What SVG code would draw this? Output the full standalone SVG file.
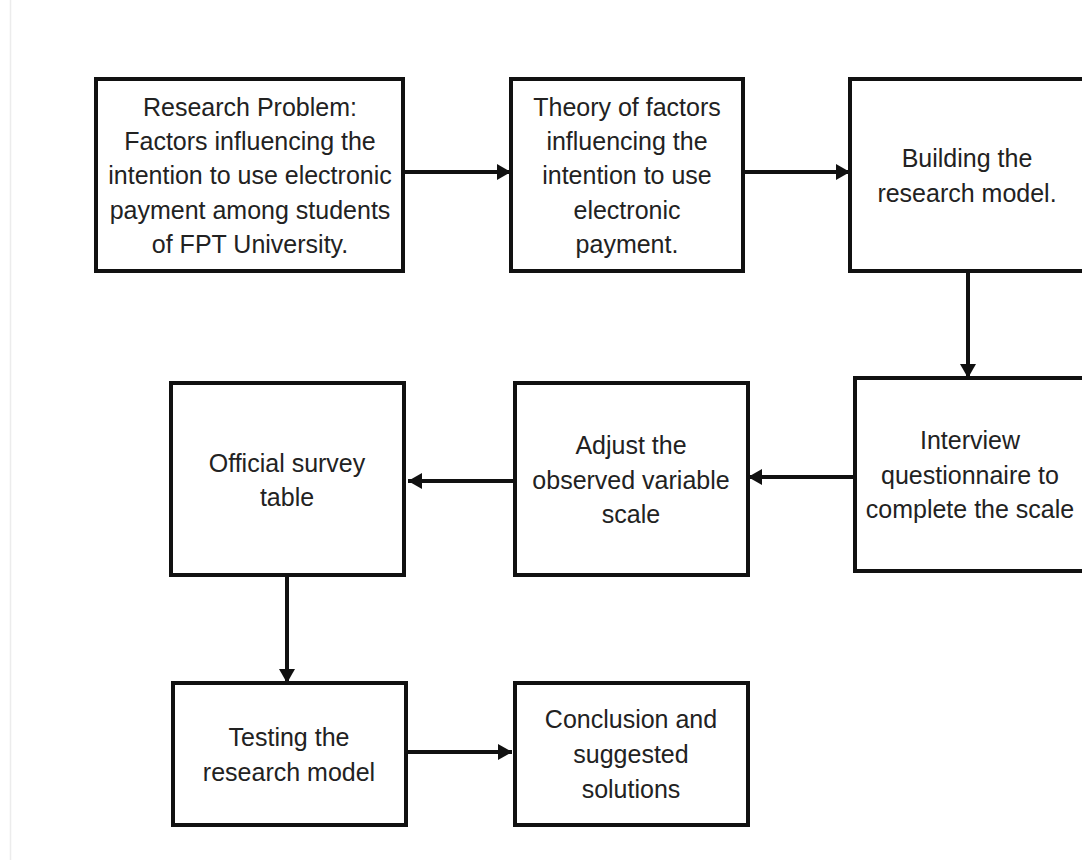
<svg xmlns="http://www.w3.org/2000/svg" width="1082" height="860" viewBox="0 0 1082 860">
<style>
.box{fill:#fff;stroke:#111;stroke-width:4}
.t{font-family:"Liberation Sans",Arial,sans-serif;font-size:25px;fill:#222;text-anchor:middle}
.c{stroke:#111;stroke-width:4;fill:none}
</style>
<defs>
<marker id="ah" markerUnits="userSpaceOnUse" markerWidth="16" markerHeight="18" viewBox="0 0 16 18" refX="14" refY="9" orient="auto">
<path d="M0,1 L14,9 L0,17 Z" fill="#111"/>
</marker>
</defs>
<rect width="1082" height="860" fill="#fff"/>
<line x1="10.5" y1="0" x2="10.5" y2="860" stroke="#ececec" stroke-width="1.5"/>
<g id="connectors">
<line class="c" x1="404" y1="172" x2="511" y2="172" marker-end="url(#ah)"/>
<line class="c" x1="744" y1="172" x2="850" y2="172" marker-end="url(#ah)"/>
<line class="c" x1="968" y1="272" x2="968" y2="378" marker-end="url(#ah)"/>
<line class="c" x1="855" y1="477" x2="748" y2="477" marker-end="url(#ah)"/>
<line class="c" x1="515" y1="481" x2="408" y2="481" marker-end="url(#ah)"/>
<line class="c" x1="287" y1="576" x2="287" y2="683" marker-end="url(#ah)"/>
<line class="c" x1="406" y1="752" x2="512" y2="752" marker-end="url(#ah)"/>
</g>
<g id="n1">
<rect class="box" x="96" y="79" width="307" height="192"/>
<text class="t" x="250" y="116">Research Problem:</text>
<text class="t" x="250" y="150">Factors influencing the</text>
<text class="t" x="250" y="184">intention to use electronic</text>
<text class="t" x="250" y="219">payment among students</text>
<text class="t" x="250" y="253">of FPT University.</text>
</g>
<g id="n2">
<rect class="box" x="511" y="79" width="232" height="192"/>
<text class="t" x="627" y="116">Theory of factors</text>
<text class="t" x="627" y="150">influencing the</text>
<text class="t" x="627" y="184">intention to use</text>
<text class="t" x="627" y="219">electronic</text>
<text class="t" x="627" y="253">payment.</text>
</g>
<g id="n3">
<rect class="box" x="850" y="79" width="234" height="192"/>
<text class="t" x="967" y="167">Building the</text>
<text class="t" x="967" y="202">research model.</text>
</g>
<g id="n4">
<rect class="box" x="855" y="378" width="230" height="193"/>
<text class="t" x="970" y="449">Interview</text>
<text class="t" x="970" y="484">questionnaire to</text>
<text class="t" x="970" y="518">complete the scale</text>
</g>
<g id="n5">
<rect class="box" x="515" y="383" width="233" height="192"/>
<text class="t" x="631" y="454">Adjust the</text>
<text class="t" x="631" y="489">observed variable</text>
<text class="t" x="631" y="523">scale</text>
</g>
<g id="n6">
<rect class="box" x="171" y="383" width="233" height="192"/>
<text class="t" x="287" y="472">Official survey</text>
<text class="t" x="287" y="506">table</text>
</g>
<g id="n7">
<rect class="box" x="173" y="683" width="233" height="142"/>
<text class="t" x="289" y="746">Testing the</text>
<text class="t" x="289" y="781">research model</text>
</g>
<g id="n8">
<rect class="box" x="515" y="683" width="233" height="142"/>
<text class="t" x="631" y="728">Conclusion and</text>
<text class="t" x="631" y="763">suggested</text>
<text class="t" x="631" y="798">solutions</text>
</g>
</svg>
